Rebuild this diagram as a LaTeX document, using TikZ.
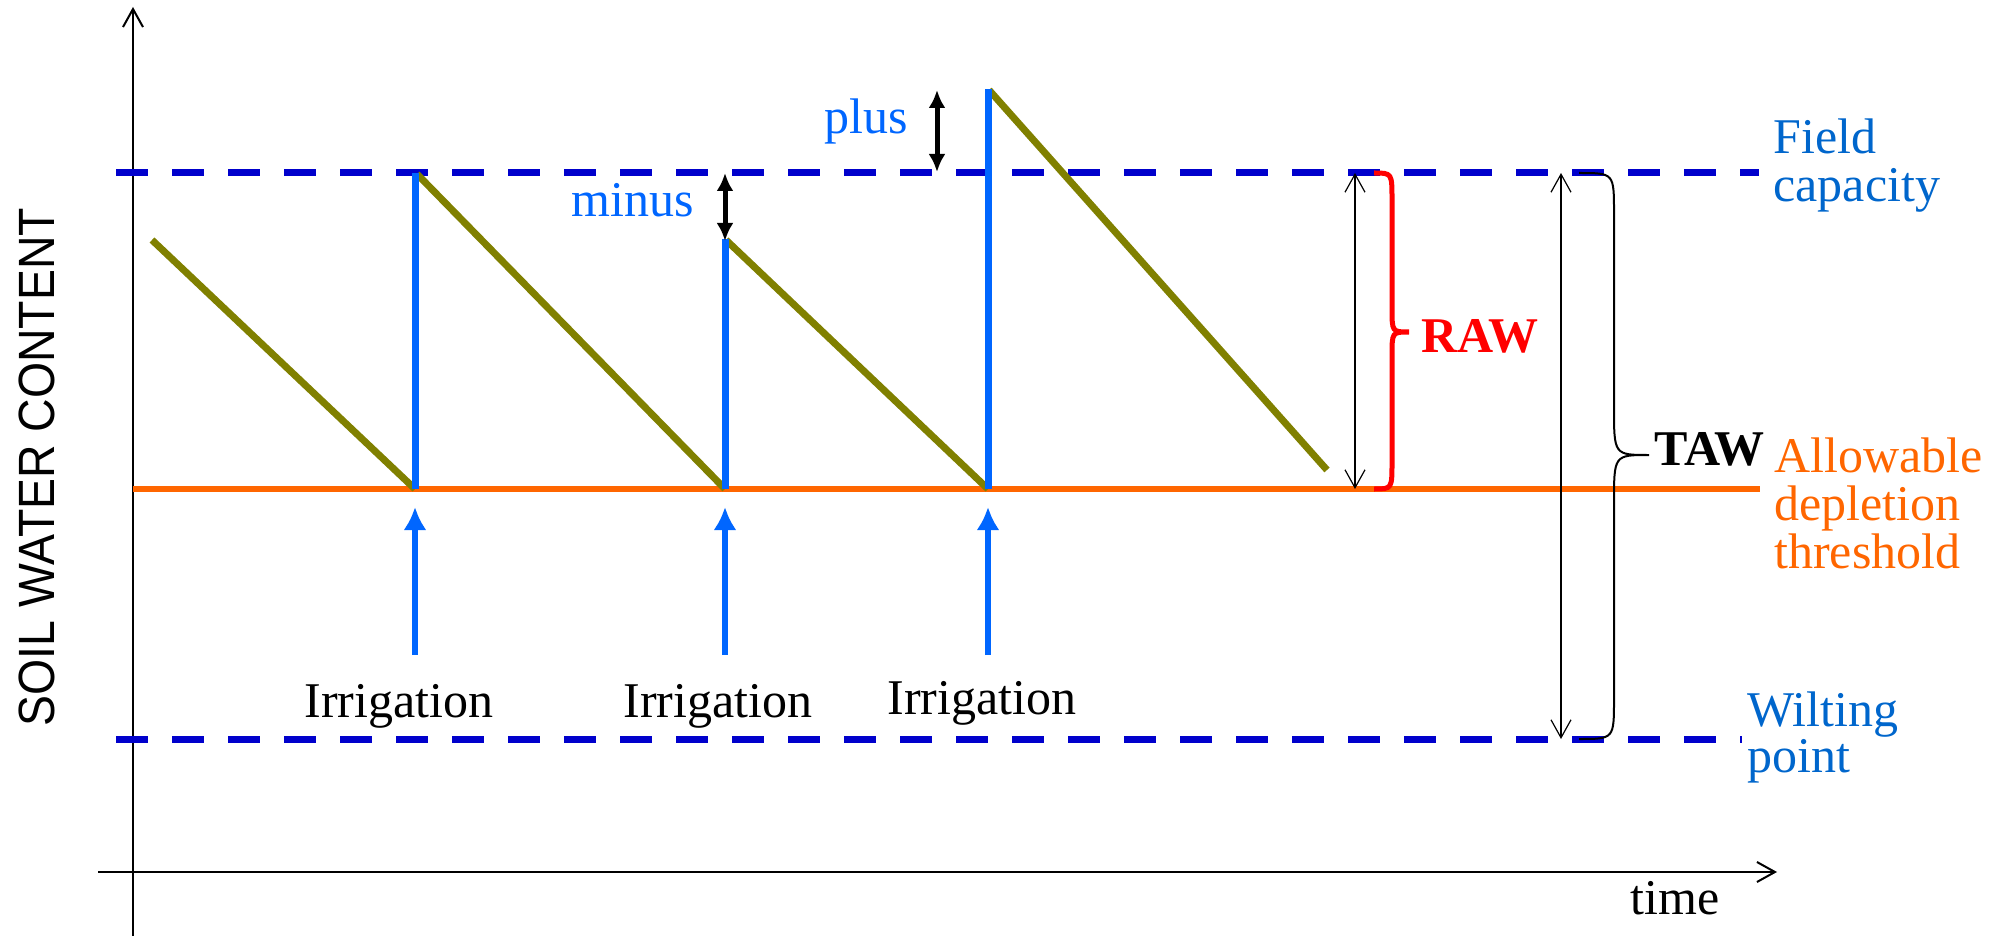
\documentclass[tikz,border=0pt]{standalone}
\usepackage{fontspec}
\setmainfont{Liberation Serif}
\setsansfont{Liberation Sans}
\usepackage{graphicx}
\usetikzlibrary{arrows.meta}
\definecolor{dashblue}{RGB}{0,0,204}
\definecolor{irrblue}{RGB}{0,102,255}
\definecolor{lblblue}{RGB}{0,102,204}
\definecolor{oliveline}{RGB}{128,128,0}
\definecolor{orangeline}{RGB}{255,102,0}
\definecolor{redbrace}{RGB}{255,0,0}
\tikzset{
  txt/.style={font=\fontsize{25}{24}\selectfont, inner sep=0pt, align=left},
  levelline/.style={draw=dashblue, line width=3.5pt, dash pattern=on 16pt off 12pt},
  depl/.style={draw=orangeline, line width=3pt},
  decline/.style={draw=oliveline, line width=3.5pt},
  refill/.style={draw=irrblue, line width=3.5pt},
  irrarrow/.style={draw=irrblue, line width=3pt, -{Latex[length=11.5pt,width=11.5pt]}},
  axisline/.style={draw=black, line width=1pt, -{Straight Barb[length=9pt,width=10pt]}},
  dimarrow/.style={draw=black, line width=0.6pt, {Straight Barb[length=9pt,width=10pt]}-{Straight Barb[length=9pt,width=10pt]}},
  pmarrow/.style={draw=black, line width=2.5pt, {Latex[length=9pt,width=8.5pt]}-{Latex[length=9pt,width=8.5pt]}},
}
\begin{document}
\begin{tikzpicture}[x=0.5pt,y=-0.5pt]
\useasboundingbox (0,0) rectangle (2003,936);

% axes
\coordinate (yb) at (133,936); \coordinate (yt) at (133,7);
\coordinate (xl) at (98,872); \coordinate (xr) at (1777,872);
\draw[axisline] (yb) -- (yt);
\draw[axisline] (xl) -- (xr);

% reference levels
\coordinate (fcL) at (116,173); \coordinate (fcR) at (1759,173);
\coordinate (wpL) at (116,739); \coordinate (wpR) at (1742,739);
\coordinate (adL) at (133,489); \coordinate (adR) at (1760,489);
\draw[depl] (adL) -- (adR);
\draw[levelline] (fcL) -- (fcR);
\draw[levelline] (wpL) -- (wpR);

% declining soil water
\coordinate (o1a) at (152,240); \coordinate (o1b) at (415,489);
\coordinate (o2a) at (417,174); \coordinate (o2b) at (725,489);
\coordinate (o3a) at (726,240); \coordinate (o3b) at (988,489);
\coordinate (o4a) at (989,90);  \coordinate (o4b) at (1327,470);
\draw[decline] (o1a) -- (o1b);
\draw[decline] (o2a) -- (o2b);
\draw[decline] (o3a) -- (o3b);
\draw[decline] (o4a) -- (o4b);

% refills
\coordinate (r1t) at (415,173); \coordinate (r2t) at (725,239); \coordinate (r3t) at (988,89);
\draw[refill] (o1b) -- (r1t);
\draw[refill] (o2b) -- (r2t);
\draw[refill] (o3b) -- (r3t);

% irrigation arrows
\coordinate (i1s) at (415,655); \coordinate (i1e) at (415,507);
\coordinate (i2s) at (725,655); \coordinate (i2e) at (725,507);
\coordinate (i3s) at (988,655); \coordinate (i3e) at (988,507);
\draw[irrarrow] (i1s) -- (i1e);
\draw[irrarrow] (i2s) -- (i2e);
\draw[irrarrow] (i3s) -- (i3e);
\node[txt, anchor=base] (irr1) at (399,717) {Irrigation};
\node[txt, anchor=base] (irr2) at (718,717) {Irrigation};
\node[txt, anchor=base] (irr3) at (982,714) {Irrigation};

% plus / minus
\coordinate (pt) at (937,90); \coordinate (pb) at (937,172);
\draw[pmarrow] (pt) -- (pb);
\node[txt, text=irrblue, anchor=base] (plus) at (866,134) {plus};
\coordinate (mt) at (725,173); \coordinate (mb) at (725,241);
\draw[pmarrow] (mt) -- (mb);
\node[txt, text=irrblue, anchor=base] (minus) at (633,217) {minus};

% RAW
\coordinate (rawT) at (1355,173); \coordinate (rawB) at (1355,489);
\draw[dimarrow] (rawT) -- (rawB);
\draw[redbrace, line width=2.5pt] (1374,173) .. controls (1392,173) .. (1392,200) -- (1392,308)
  .. controls (1392,332) .. (1409,332) .. controls (1392,332) .. (1392,356) -- (1392,462)
  .. controls (1392,489) .. (1374,489);
\node[txt, text=redbrace, font=\fontsize{25}{24}\selectfont\bfseries, anchor=base west] (raw) at (1421,352) {RAW};

% TAW
\coordinate (tawT) at (1561,173); \coordinate (tawB) at (1561,739);
\draw[dimarrow] (tawT) -- (tawB);
\draw[black, line width=1pt] (1579,173) .. controls (1614,173) .. (1614,213) -- (1614,407)
  .. controls (1614,455) .. (1649,455) .. controls (1614,455) .. (1614,503) -- (1614,699)
  .. controls (1614,739) .. (1579,739);
\node[txt, font=\fontsize{25}{24}\selectfont\bfseries, anchor=base west] (taw) at (1654,465) {TAW};

% level labels (base anchor = baseline of last line)
\node[txt, text=lblblue, anchor=base west] (fc) at (1773,202) {Field\\capacity};
\node[txt, text=orangeline, anchor=base west] (ad) at (1774,568) {Allowable\\depletion\\threshold};
\node[txt, text=lblblue, font=\fontsize{25}{21}\selectfont, anchor=base west] (wp) at (1747,772) {Wilting\\point};

% axis labels
\node[inner sep=0pt, anchor=base west, font=\fontsize{25}{24}\selectfont] (time) at (1630,914) {time};
\node[inner sep=0pt, rotate=90, font=\sffamily\fontsize{25.5}{26}\selectfont] (ylab) at (36.5,467) {\scalebox{0.91}[1]{SOIL WATER CONTENT}};
\end{tikzpicture}
\end{document}
